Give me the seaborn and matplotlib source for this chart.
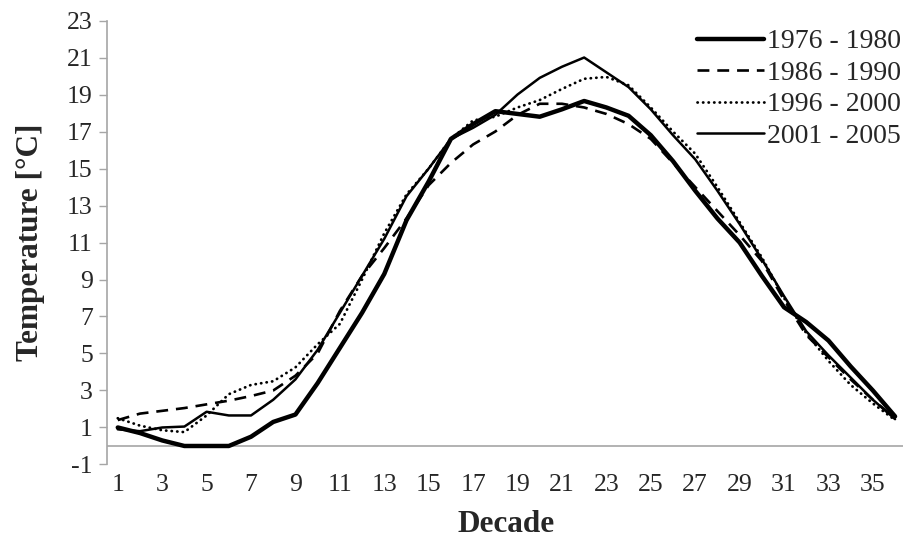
import numpy as np
import pandas as pd
import matplotlib
matplotlib.use("Agg")
import matplotlib.pyplot as plt
import seaborn as sns

decades = list(range(1, 37))

t_1976_1980 = [1.0, 0.7, 0.3, 0.0, 0.0, 0.0, 0.5, 1.3, 1.7, 3.4,
               5.3, 7.2, 9.3, 12.2, 14.3, 16.6, 17.4, 18.1, 17.95, 17.8,
               18.2, 18.65, 18.3, 17.85, 16.8, 15.4, 13.8, 12.3, 11.0, 9.2,
               7.5, 6.7, 5.7, 4.3, 3.0, 1.6]
t_1986_1990 = [1.4, 1.75, 1.9, 2.05, 2.25, 2.45, 2.7, 3.0, 3.8, 5.0,
               7.3, 9.2, 10.7, 12.3, 14.1, 15.3, 16.3, 17.0, 17.9, 18.5,
               18.5, 18.3, 17.95, 17.4, 16.6, 15.3, 14.0, 12.7, 11.4, 10.0,
               7.9, 6.0, 4.8, 3.6, 2.5, 1.5]
t_1996_2000 = [1.5, 1.1, 0.85, 0.75, 1.65, 2.8, 3.3, 3.5, 4.25, 5.5,
               6.6, 9.0, 11.5, 13.6, 15.0, 16.6, 17.6, 17.8, 18.3, 18.7,
               19.3, 19.85, 19.95, 19.5, 18.3, 17.0, 15.8, 14.0, 12.1, 10.2,
               8.0, 6.1, 4.6, 3.3, 2.3, 1.4]
t_2001_2005 = [0.9, 0.8, 1.0, 1.05, 1.85, 1.65, 1.65, 2.5, 3.6, 5.2,
               7.2, 9.2, 11.2, 13.5, 15.0, 16.6, 17.2, 17.9, 19.0, 19.9,
               20.5, 21.0, 20.2, 19.4, 18.2, 16.8, 15.5, 13.8, 12.0, 10.1,
               8.1, 6.2, 4.9, 3.7, 2.5, 1.45]

series_labels = ["1976 - 1980", "1986 - 1990", "1996 - 2000", "2001 - 2005"]
y_ticks = list(range(-1, 24, 2))
x_ticks = list(range(1, 37, 2))

sns.set_theme(style="white")
plt.rcParams['font.family'] = ['Liberation Serif', 'DejaVu Serif']
plt.rcParams['axes.unicode_minus'] = False

fig = plt.figure(figsize=(9.04, 5.43), dpi=100)
ax = fig.add_axes([0.118, 0.1446, 0.8844, 0.8176])

styles = [
    dict(lw=3.2, linestyle='-', solid_capstyle='round', solid_joinstyle='round'),
    dict(lw=1.9, linestyle=(0, (4.5, 3.0)), dash_capstyle='butt'),
    dict(lw=2.0, linestyle=(0, (0.1, 1.9)), dash_capstyle='round'),
    dict(lw=1.8, linestyle='-', solid_joinstyle='round'),
]
data = [t_1976_1980, t_1986_1990, t_1996_2000, t_2001_2005]

for vals, lab, st in zip(data, series_labels, styles):
    df = pd.DataFrame({"Decade": decades, "Temp": vals})
    sns.lineplot(data=df, x="Decade", y="Temp", ax=ax, color='black',
                 label=lab, **st)

ax.axhline(0, color='#a6a6a6', lw=1.2, zorder=0)
ax.set_xlim(0.5, 36.5)
ax.set_ylim(-1, 23)
ax.set_yticks(y_ticks)
ax.set_xticks(x_ticks)
ax.tick_params(axis='y', which='both', left=True, length=6, width=1.0,
               color='#a6a6a6', labelsize=18.5, pad=4)
ax.tick_params(axis='x', length=0, labelsize=18.5, pad=7)
for s in ['top', 'right', 'bottom']:
    ax.spines[s].set_visible(False)
ax.spines['left'].set_color('#a6a6a6')
ax.spines['left'].set_linewidth(1.2)
ax.grid(False)

ax.set_xlabel("Decade", fontsize=22.5, fontweight='bold', labelpad=10)
ax.set_ylabel("Temperature [°C]", fontsize=22.5, fontweight='bold', labelpad=16)

leg = ax.legend(loc='upper right', bbox_to_anchor=(1.0, 0.952),
                bbox_transform=fig.transFigure, frameon=False, fontsize=20,
                handlelength=2.4, handletextpad=0.12, labelspacing=0.22,
                borderpad=0.1, borderaxespad=0.0)

fig.savefig("out.png", dpi=100)
